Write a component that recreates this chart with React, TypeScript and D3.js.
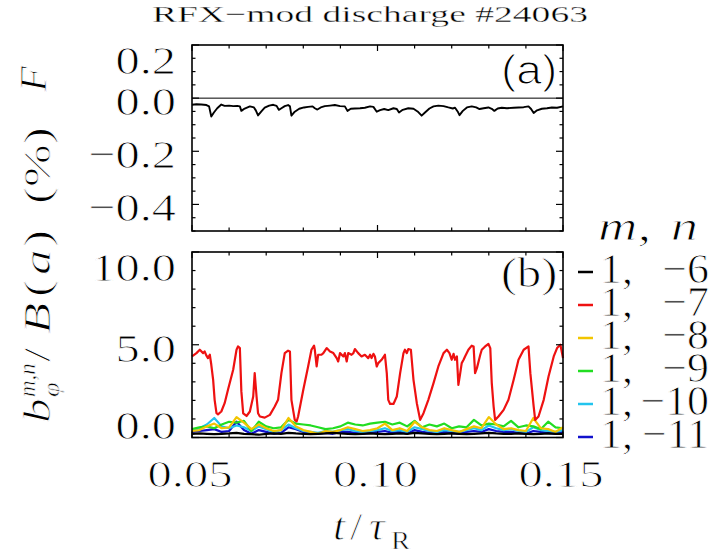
import React from 'react';
import * as d3 from 'd3';

const W = 718, H = 556;
const SERIF = '"Liberation Serif", "Times New Roman", serif';
const SANS = '"Liberation Sans", Arial, sans-serif';

// ---- data ----
const title = 'RFX\u2212mod discharge #24063';
const xTickFormat = '.2f';

// (a) reversal parameter F
const tF = [0.0500,0.0512,0.0525,0.0539,0.0546,0.0552,0.0559,0.0568,0.0579,0.0588,0.0600,0.0611,0.0622,0.0629,0.0633,0.0642,0.0656,0.0667,0.0672,0.0678,0.0687,0.0696,0.0708,0.0719,0.0728,0.0734,0.0741,0.0750,0.0759,0.0764,0.0768,0.0777,0.0789,0.0802,0.0813,0.0825,0.0831,0.0838,0.0847,0.0858,0.0872,0.0885,0.0899,0.0912,0.0919,0.0928,0.0939,0.0953,0.0966,0.0980,0.0989,0.0998,0.1007,0.1018,0.1029,0.1043,0.1052,0.1058,0.1068,0.1083,0.1097,0.1108,0.1119,0.1128,0.1140,0.1151,0.1164,0.1178,0.1191,0.1203,0.1209,0.1216,0.1221,0.1230,0.1241,0.1254,0.1266,0.1275,0.1286,0.1299,0.1308,0.1315,0.1324,0.1335,0.1349,0.1367,0.1380,0.1394,0.1407,0.1414,0.1421,0.1430,0.1443,0.1457,0.1470,0.1484,0.1500];
const vF = [-0.025,-0.023,-0.024,-0.026,-0.031,-0.069,-0.054,-0.038,-0.024,-0.029,-0.028,-0.030,-0.029,-0.031,-0.048,-0.039,-0.031,-0.035,-0.046,-0.065,-0.050,-0.036,-0.028,-0.025,-0.029,-0.044,-0.038,-0.030,-0.026,-0.031,-0.066,-0.051,-0.040,-0.035,-0.033,-0.031,-0.038,-0.043,-0.035,-0.030,-0.028,-0.026,-0.030,-0.031,-0.048,-0.040,-0.039,-0.038,-0.036,-0.031,-0.033,-0.051,-0.045,-0.041,-0.045,-0.038,-0.041,-0.054,-0.044,-0.038,-0.040,-0.050,-0.066,-0.054,-0.039,-0.031,-0.028,-0.030,-0.035,-0.039,-0.036,-0.050,-0.064,-0.048,-0.035,-0.031,-0.035,-0.041,-0.038,-0.035,-0.040,-0.048,-0.039,-0.036,-0.038,-0.036,-0.035,-0.034,-0.031,-0.041,-0.056,-0.046,-0.040,-0.038,-0.035,-0.036,-0.031];

// (b) m=1, n=-7 (dominant mode)
const tRed = [0.0500,0.0512,0.0521,0.0530,0.0534,0.0539,0.0543,0.0548,0.0552,0.0557,0.0561,0.0566,0.0570,0.0579,0.0588,0.0597,0.0611,0.0620,0.0624,0.0629,0.0633,0.0638,0.0647,0.0656,0.0665,0.0669,0.0674,0.0678,0.0683,0.0696,0.0710,0.0723,0.0732,0.0741,0.0750,0.0759,0.0764,0.0768,0.0777,0.0782,0.0786,0.0800,0.0813,0.0822,0.0829,0.0831,0.0836,0.0840,0.0849,0.0854,0.0863,0.0872,0.0881,0.0890,0.0894,0.0899,0.0908,0.0912,0.0917,0.0921,0.0930,0.0935,0.0939,0.0948,0.0957,0.0966,0.0975,0.0980,0.0984,0.0989,0.0993,0.0998,0.1002,0.1011,0.1020,0.1025,0.1029,0.1034,0.1043,0.1052,0.1061,0.1070,0.1074,0.1079,0.1083,0.1090,0.1097,0.1106,0.1115,0.1124,0.1137,0.1151,0.1164,0.1178,0.1187,0.1194,0.1200,0.1205,0.1209,0.1214,0.1218,0.1223,0.1227,0.1232,0.1236,0.1245,0.1254,0.1259,0.1263,0.1268,0.1277,0.1281,0.1290,0.1299,0.1304,0.1308,0.1313,0.1317,0.1326,0.1340,0.1353,0.1367,0.1380,0.1394,0.1407,0.1412,0.1421,0.1425,0.1434,0.1448,0.1461,0.1475,0.1484,0.1493,0.1500];
const vRed = [4.37,4.55,4.73,4.55,4.64,4.41,4.28,4.46,3.92,3.11,2.03,1.31,1.25,1.40,1.85,2.57,3.65,4.73,4.91,4.82,2.50,1.30,1.16,1.40,2.21,3.47,2.21,1.31,1.13,1.07,1.22,1.67,2.03,3.47,4.55,4.68,4.64,2.03,0.95,0.86,1.13,2.57,3.83,4.73,4.95,4.73,3.83,4.46,4.46,4.55,4.82,4.64,4.55,4.28,4.10,4.55,4.37,4.55,4.10,4.55,4.46,4.55,4.77,4.55,4.37,4.46,4.28,4.46,4.28,4.51,4.37,3.83,4.01,4.19,4.46,3.47,2.03,1.81,1.81,2.21,3.47,4.55,4.73,4.55,4.77,4.73,3.11,1.85,0.95,1.31,2.03,2.93,3.83,4.55,4.73,4.55,4.19,4.51,4.19,4.37,2.84,3.47,4.01,4.19,4.37,4.73,4.95,4.91,3.47,3.74,4.46,4.73,4.91,5.04,4.82,2.93,1.67,0.95,1.13,1.49,2.03,3.11,4.19,4.73,4.91,3.47,1.67,0.95,1.13,2.03,3.29,4.37,4.82,5.00,4.28];

// (b) other modes, sampled on a common time base
const tModes = [0.050,0.052,0.054,0.056,0.058,0.060,0.062,0.064,0.066,0.068,0.070,0.072,0.074,0.076,0.078,0.080,0.082,0.084,0.086,0.088,0.090,0.092,0.094,0.096,0.098,0.100,0.102,0.104,0.106,0.108,0.110,0.112,0.114,0.116,0.118,0.120,0.122,0.124,0.126,0.128,0.130,0.132,0.134,0.136,0.138,0.140,0.142,0.144,0.146,0.148,0.150];
const vN6 = [0.20,0.22,0.20,0.18,0.20,0.22,0.25,0.20,0.18,0.15,0.20,0.22,0.20,0.25,0.22,0.20,0.18,0.20,0.22,0.25,0.22,0.20,0.18,0.20,0.22,0.20,0.18,0.20,0.22,0.20,0.25,0.22,0.20,0.18,0.20,0.22,0.20,0.18,0.20,0.22,0.25,0.22,0.20,0.20,0.22,0.20,0.18,0.20,0.22,0.20,0.20];
const vN8 = [0.35,0.40,0.60,0.75,0.50,0.55,1.10,0.80,0.45,0.70,0.50,0.35,0.40,1.05,0.60,0.40,0.30,0.20,0.35,0.30,0.40,0.55,0.45,0.35,0.40,0.50,0.75,0.40,0.50,0.35,0.85,0.55,0.40,0.35,0.50,0.40,0.30,0.45,0.60,0.50,1.10,0.70,0.45,0.50,0.40,0.35,1.05,0.50,0.45,0.30,0.55];
const vN9 = [0.45,0.55,0.60,0.50,0.70,0.85,0.80,0.90,0.35,0.85,0.60,0.50,0.55,0.95,0.75,0.70,0.65,0.55,0.45,0.50,0.60,0.80,0.70,0.65,0.75,0.80,0.85,0.70,0.80,0.60,0.90,0.55,0.70,0.60,0.75,0.50,0.60,0.55,0.95,0.65,0.75,0.70,0.60,0.90,0.55,0.65,0.60,0.45,0.85,0.55,0.50];
const vN10 = [0.40,0.50,0.70,1.05,0.60,0.50,0.65,0.55,0.35,0.60,0.45,0.30,0.40,0.70,0.50,0.35,0.30,0.25,0.35,0.30,0.40,0.45,0.35,0.30,0.35,0.40,0.50,0.35,0.40,0.30,0.55,0.45,0.35,0.30,0.40,0.35,0.30,0.40,0.50,0.40,0.65,0.50,0.40,0.45,0.35,0.30,0.55,0.40,0.35,0.30,0.40];
const vN11 = [0.30,0.35,0.40,0.45,0.30,0.35,0.85,0.40,0.20,0.40,0.30,0.20,0.25,0.55,0.45,0.30,0.20,0.20,0.25,0.20,0.30,0.30,0.25,0.20,0.25,0.30,0.35,0.25,0.30,0.20,0.40,0.30,0.25,0.20,0.30,0.25,0.20,0.30,0.35,0.30,0.45,0.35,0.30,0.30,0.25,0.20,0.35,0.30,0.25,0.20,0.30];

const legendM = ['1', '1', '1', '1', '1', '1'];
const legendN = ['\u22126', '\u22127', '\u22128', '\u22129', '\u221210', '\u221211'];
const legendColors = ['#000000', '#ee1111', '#f2c500', '#22dd22', '#22c4ee', '#1111cc'];

// ---- layout ----
const X0 = 192, X1 = 563;
const TOP = { y0: 45, y1: 231 };
const BOT = { y0: 252, y1: 437.5 };

const x = d3.scaleLinear().domain([0.05, 0.15]).range([X0, X1]);
const yTop = d3.scaleLinear().domain([-0.5, 0.2]).range([TOP.y1, TOP.y0]);
const yBot = d3.scaleLinear().domain([0, 10]).range([BOT.y1, BOT.y0]);

function ST({ x, y, sx = 1.18, anchor = 'start', size, italic = false, family = SERIF, thin = 0.9, children }: any) {
  return (
    <text transform={`translate(${x},${y}) scale(${sx},1)`} textAnchor={anchor} fontSize={size}
      fontStyle={italic ? 'italic' : 'normal'} fontFamily={family} fill="#000"
      stroke="#fff" strokeWidth={thin}>{children}</text>
  );
}

function Frame({ y, y0, y1, minorY, majorY, fmt }: any) {
  const els: any[] = [];
  const xMinor = x.ticks(10);
  const xMajor = x.ticks(2);
  xMinor.forEach((v, i) => {
    const isMajor = xMajor.some(m => Math.abs(m - v) < 1e-9);
    const L = isMajor ? 6 : 3.5;
    els.push(<line key={'xt' + i} x1={x(v)} x2={x(v)} y1={y0} y2={y0 + L} stroke="#000" strokeWidth={1.2} />);
    els.push(<line key={'xb' + i} x1={x(v)} x2={x(v)} y1={y1} y2={y1 - L} stroke="#000" strokeWidth={1.2} />);
  });
  const yMin = y.ticks(minorY);
  const yMaj = y.ticks(majorY);
  yMin.forEach((v: number, i: number) => {
    const isMajor = yMaj.some((m: number) => Math.abs(m - v) < 1e-9);
    const L = isMajor ? 7 : 3.5;
    els.push(<line key={'yl' + i} x1={X0} x2={X0 + L} y1={y(v)} y2={y(v)} stroke="#000" strokeWidth={1.2} />);
    els.push(<line key={'yr' + i} x1={X1} x2={X1 - L} y1={y(v)} y2={y(v)} stroke="#000" strokeWidth={1.2} />);
  });
  const labels = yMaj.map((v: number, i: number) => {
    const base = Math.min(Math.max(y(v) + 17, y0 + 29), y1 + 1);
    return <ST key={'yl' + i} x={176} y={base} anchor="end" size={41}>{d3.format(fmt)(v)}</ST>;
  });
  return (
    <g>
      {els}
      <rect x={X0} y={y0} width={X1 - X0} height={y1 - y0} fill="none" stroke="#000" strokeWidth={1.6} />
      {labels}
    </g>
  );
}

export default function App() {
  const lineTop = d3.line<[number, number]>().x(d => x(d[0])).y(d => yTop(d[1]));
  const lineBot = d3.line<[number, number]>().x(d => x(d[0])).y(d => yBot(d[1]));
  const fData = d3.zip(tF, vF) as [number, number][];
  const redData = d3.zip(tRed, vRed) as [number, number][];
  const modes = [
    { v: vN11, c: legendColors[5] },
    { v: vN10, c: legendColors[4] },
    { v: vN9, c: legendColors[3] },
    { v: vN8, c: legendColors[2] },
    { v: vN6, c: legendColors[0] },
  ];

  return (
    <svg width={W} height={H} style={{ position: 'absolute', left: 0, top: 0, background: '#fff' }}>
      <rect x={0} y={0} width={W} height={H} fill="#fff" />
      {/* title */}
      <text x={370} y={22} textAnchor="middle" fontSize={23} fontFamily={SERIF} textLength={436}
        lengthAdjust="spacingAndGlyphs" stroke="#fff" strokeWidth={0.35}>{title}</text>

      {/* panel (a) */}
      <line x1={X0} x2={X1} y1={yTop(0)} y2={yTop(0)} stroke="#000" strokeWidth={1} />
      <path d={lineTop(fData) || ''} fill="none" stroke="#000" strokeWidth={1.9} strokeLinejoin="round" />
      <Frame y={yTop} y0={TOP.y0} y1={TOP.y1} minorY={14} majorY={3} fmt=".1f" />
      <ST x={501} y={84} size={40} sx={1.15} family={SANS} thin={1.2}>(a)</ST>

      {/* panel (b) */}
      {modes.map((m, i) => (
        <path key={i} d={lineBot(d3.zip(tModes, m.v) as [number, number][]) || ''} fill="none" stroke={m.c} strokeWidth={2.2} strokeLinejoin="round" />
      ))}
      <path d={lineBot(redData) || ''} fill="none" stroke={legendColors[1]} strokeWidth={2.2} strokeLinejoin="round" />
      <Frame y={yBot} y0={BOT.y0} y1={BOT.y1} minorY={10} majorY={2} fmt=".1f" />
      <ST x={501} y={287} size={42} sx={1.15}>(b)</ST>

      {/* x tick labels */}
      {x.ticks(2).map((v, i) => (
        <ST key={i} x={x(v) - 2} y={487} anchor="middle" size={38} sx={1.28}>{d3.format(xTickFormat)(v)}</ST>
      ))}
      {/* x title */}
      <ST x={333} y={540} size={40} italic sx={1.1}>t</ST>
      <ST x={350} y={540} size={40} sx={1.1}>/</ST>
      <ST x={369} y={540} size={40} italic sx={1.1}>τ</ST>
      <ST x={391} y={549} size={26} sx={1.1} thin={0.6}>R</ST>

      {/* y titles */}
      <g transform="translate(46,79) rotate(-90)">
        <ST x={0} y={0} anchor="middle" size={38} italic sx={1.1}>F</ST>
      </g>
      <g transform="translate(50,282) rotate(-90)">
        <ST x={-141} y={0} size={38} italic sx={1.3}>b</ST>
        <ST x={-115} y={-15} size={23} italic sx={1.0} thin={0.6}>m,n</ST>
        <ST x={-115} y={9} size={24} italic sx={1.1} thin={0.6}>φ</ST>
        <ST x={-80} y={0} size={38} sx={1.35}>/</ST>
        <ST x={-52} y={0} size={38} italic sx={1.35}>B</ST>
        <ST x={-15} y={0} size={38} sx={1.35}>(</ST>
        <ST x={7} y={0} size={38} italic sx={1.35}>a</ST>
        <ST x={35} y={0} size={38} sx={1.35}>)</ST>
        <ST x={78} y={0} size={38} sx={1.35}>(%)</ST>
      </g>

      {/* legend */}
      <ST x={598} y={240} size={42} italic sx={1.3}>m,</ST>
      <ST x={698} y={240} size={42} italic sx={1.3} anchor="end">n</ST>
      {legendN.map((n, i) => {
        const cy = 272 + i * 33;
        return (
          <g key={i}>
            <line x1={578} x2={593} y1={cy} y2={cy} stroke={legendColors[i]} strokeWidth={2.5} />
            <ST x={600} y={cy + 11} size={43} sx={1.02}>{legendM[i] + ','}</ST>
            <ST x={709} y={cy + 11} size={43} sx={1.02} anchor="end">{n}</ST>
          </g>
        );
      })}
    </svg>
  );
}
